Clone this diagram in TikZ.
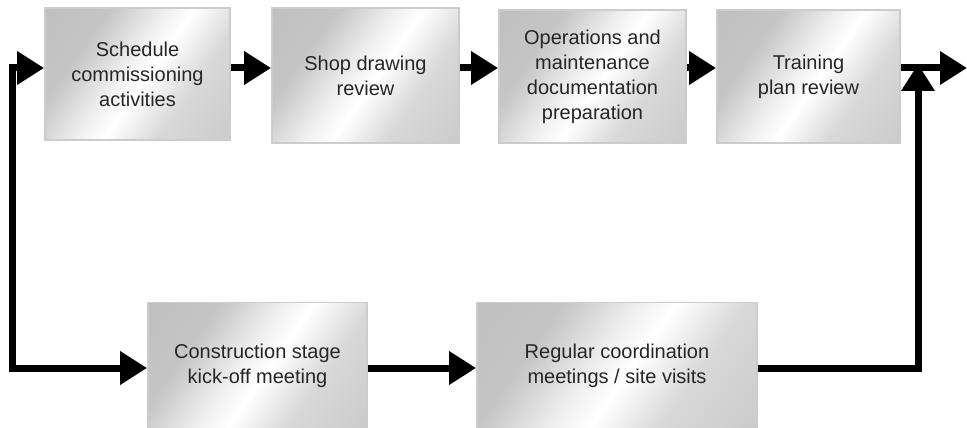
\documentclass[tikz,border=0pt]{standalone}
\usepackage{fontspec}
\setmainfont{Liberation Sans}
\usetikzlibrary{arrows.meta}
\pgfdeclarehorizontalshading{boxshade}{100bp}{color(0bp)=(gray!55); color(32bp)=(gray!45); color(46bp)=(gray!12); color(53bp)=(white); color(66bp)=(gray!30); color(100bp)=(gray!50)}
\begin{document}
\begin{tikzpicture}[x=1pt,y=-1pt,
  box/.style={draw=gray!40, line width=1.8pt, shading=boxshade, shading angle=-35,
    align=center, font=\fontsize{20}{25}\selectfont, text=black!85},
  flow/.style={line width=7pt, line join=miter, -{Triangle[length=27pt,width=32pt]}},
  cornerflow/.style={flow, line cap=rect}]
\useasboundingbox (0,0) rectangle (967,428);
\node[box, minimum width=185pt, minimum height=132pt] (s) at (137.5,74) {Schedule\\commissioning\\activities};
\node[box, minimum width=187pt, minimum height=135pt] (d) at (365.5,75.5) {Shop drawing\\review};
\node[box, minimum width=187pt, minimum height=133pt] (o) at (592.5,76.5) {Operations and\\maintenance\\documentation\\preparation};
\node[box, minimum width=183pt, minimum height=133pt] (t) at (808.5,76.5) {Training\\plan review};
\node[box, minimum width=219pt, minimum height=127pt] (c) at (257.5,366) {Construction stage\\kick-off meeting};
\node[box, minimum width=280pt, minimum height=127pt] (r) at (617,366) {Regular coordination\\meetings / site visits};
\coordinate (lb) at (12,368);
\coordinate (lt) at (12,68);
\coordinate (rb) at (918,368);
\coordinate (rt) at (918,68);
\coordinate (end) at (967,68);
\draw[flow] (s.east |- 0,68) -- (d.west |- 0,68);
\draw[flow] (d.east |- 0,68) -- (o.west |- 0,68);
\draw[flow] (o.east |- 0,68) -- (t.west |- 0,68);
\draw[flow] (t.east |- 0,68) -- (end);
\draw[cornerflow] (lb) -- (lt) -- (s.west |- 0,68);
\draw[cornerflow] (lb) -- (c.west |- 0,368);
\draw[flow] (c.east |- 0,368) -- (r.west |- 0,368);
\draw[flow] (r.east |- 0,368) -- (rb) -- ([yshift=4pt]rt);
\end{tikzpicture}
\end{document}
